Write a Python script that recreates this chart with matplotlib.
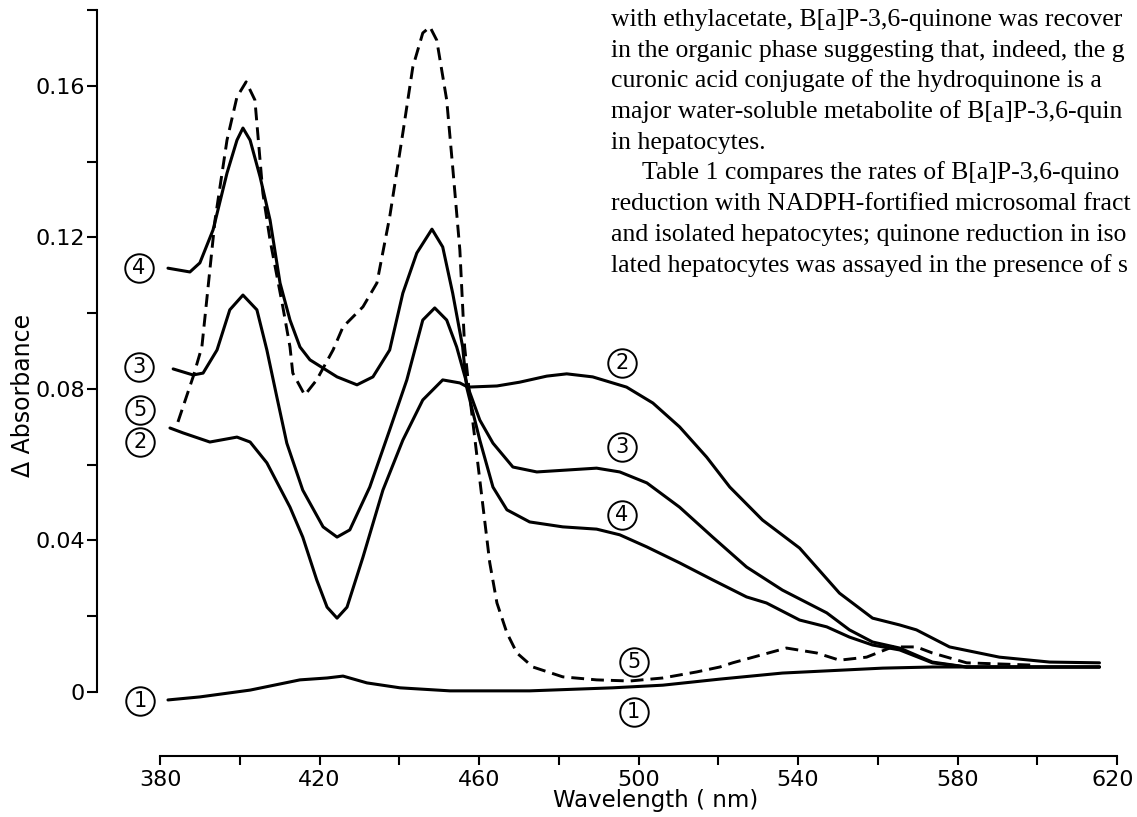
import matplotlib
matplotlib.use('Agg')
import matplotlib.pyplot as plt

# ---------------- data ----------------
wl_1 = [382.0, 390.0, 402.6, 415.1, 421.9, 425.9, 431.9, 440.2, 452.7, 472.7,
        493.5, 506.1, 520.4, 536.1, 561.2, 573.7, 615.6]
abs_1 = [-0.0021, -0.0013, 0.0005, 0.0032, 0.0037, 0.0042, 0.0024, 0.0011, 0.0003, 0.0003,
         0.0011, 0.0018, 0.0034, 0.0050, 0.0063, 0.0066, 0.0066]

wl_2 = [382.5, 385.8, 392.5, 399.3, 402.6, 406.8, 412.6, 415.8, 419.3, 421.9,
        424.4, 426.9, 430.9, 435.9, 440.9, 445.9, 450.9, 455.2, 457.2, 464.5,
        470.2, 477.0, 482.0, 488.5, 497.0, 503.6, 510.3, 517.1, 522.9, 531.1,
        540.4, 550.4, 558.7, 565.5, 569.7, 578.0, 590.5, 603.1, 615.6]
abs_2 = [0.0697, 0.0684, 0.0660, 0.0673, 0.0660, 0.0605, 0.0488, 0.0409, 0.0296, 0.0224,
         0.0195, 0.0224, 0.0356, 0.0533, 0.0665, 0.0771, 0.0824, 0.0816, 0.0805, 0.0808,
         0.0818, 0.0834, 0.0840, 0.0832, 0.0805, 0.0763, 0.0700, 0.0620, 0.0541, 0.0454,
         0.0380, 0.0261, 0.0195, 0.0177, 0.0164, 0.0119, 0.0092, 0.0079, 0.0077]

wl_3 = [383.3, 388.3, 390.8, 394.3, 397.5, 400.8, 404.3, 406.8, 409.3, 411.8,
        415.8, 420.9, 424.4, 427.6, 432.6, 437.6, 441.9, 445.9, 448.9, 451.9,
        454.4, 457.2, 460.2, 463.5, 468.5, 474.5, 482.0, 489.5, 495.3, 502.1,
        510.3, 518.6, 527.1, 536.1, 547.2, 552.9, 558.7, 565.5, 573.7, 582.3, 615.6]
abs_3 = [0.0853, 0.0837, 0.0842, 0.0903, 0.1009, 0.1048, 0.1009, 0.0903, 0.0779, 0.0657,
         0.0533, 0.0436, 0.0409, 0.0428, 0.0541, 0.0692, 0.0824, 0.0982, 0.1014, 0.0982,
         0.0911, 0.0805, 0.0718, 0.0657, 0.0594, 0.0581, 0.0586, 0.0591, 0.0581, 0.0552,
         0.0488, 0.0409, 0.0330, 0.0269, 0.0209, 0.0164, 0.0132, 0.0116, 0.0079, 0.0066, 0.0066]

wl_4 = [382.0, 387.5, 390.0, 393.3, 396.8, 399.3, 400.8, 402.6, 405.1, 407.6,
        410.1, 412.6, 415.1, 417.6, 424.4, 429.4, 433.4, 437.6, 440.9, 444.4,
        448.2, 450.9, 453.4, 455.9, 456.9, 460.2, 463.5, 467.0, 472.7, 481.0,
        489.5, 495.3, 502.1, 510.3, 518.6, 527.1, 532.1, 540.4, 547.2, 552.9,
        558.7, 565.5, 573.7, 582.3, 615.6]
abs_4 = [0.1119, 0.1109, 0.1133, 0.1220, 0.1370, 0.1457, 0.1489, 0.1457, 0.1360, 0.1246,
         0.1080, 0.0982, 0.0911, 0.0877, 0.0832, 0.0811, 0.0832, 0.0903, 0.1053, 0.1159,
         0.1222, 0.1175, 0.1053, 0.0911, 0.0805, 0.0665, 0.0541, 0.0481, 0.0449, 0.0436,
         0.0430, 0.0415, 0.0383, 0.0341, 0.0296, 0.0251, 0.0235, 0.0190, 0.0172, 0.0145,
         0.0124, 0.0111, 0.0077, 0.0066, 0.0066]

wl_5 = [384.5, 388.3, 390.5, 393.8, 396.8, 399.3, 401.6, 403.8, 405.8, 407.6,
        410.8, 412.6, 413.3, 416.3, 419.3, 423.4, 425.9, 430.9, 434.4, 437.6,
        440.9, 443.4, 445.9, 447.7, 449.4, 451.9, 453.4, 455.2, 456.4, 457.7,
        460.2, 462.7, 464.5, 467.0, 469.5, 473.5, 481.0, 489.5, 497.8, 506.1,
        514.6, 520.4, 523.6, 537.1, 544.7, 550.4, 557.2, 563.7, 569.7, 573.7,
        582.3, 598.8]
abs_5 = [0.0713, 0.0832, 0.0911, 0.1246, 0.1457, 0.1571, 0.1611, 0.1563, 0.1317, 0.1193,
         0.1017, 0.0911, 0.0842, 0.0784, 0.0824, 0.0903, 0.0964, 0.1017, 0.1080, 0.1254,
         0.1476, 0.1650, 0.1740, 0.1756, 0.1721, 0.1563, 0.1386, 0.1167, 0.0911, 0.0779,
         0.0560, 0.0341, 0.0235, 0.0156, 0.0103, 0.0066, 0.0040, 0.0032, 0.0029, 0.0037,
         0.0053, 0.0066, 0.0077, 0.0116, 0.0103, 0.0084, 0.0092, 0.0119, 0.0119, 0.0103,
         0.0077, 0.0071]

x_major = [380, 420, 460, 500, 540, 580, 620]
x_minor = [400, 440, 480, 520, 560, 600]
y_major = [0, 0.04, 0.08, 0.12, 0.16]
y_major_labels = ['0', '0.04', '0.08', '0.12', '0.16']
y_minor = [0.02, 0.06, 0.10, 0.14, 0.18]

# curve labels: (number, wavelength, absorbance)
label_nums = ['4', '3', '5', '2', '1', '2', '3', '4', '5', '1']
label_wl = [374.7, 374.7, 375.0, 375.0, 375.0, 495.8, 495.8, 495.8, 498.8, 498.8]
label_abs = [0.1119, 0.0858, 0.0745, 0.0660, -0.0024, 0.0869, 0.0647, 0.0467, 0.0079, -0.0053]

text_lines = [
    "with ethylacetate, B[a]P-3,6-quinone was recover",
    "in the organic phase suggesting that, indeed, the g",
    "curonic acid conjugate of the hydroquinone is a",
    "major water-soluble metabolite of B[a]P-3,6-quin",
    "in hepatocytes.",
    "Table 1 compares the rates of B[a]P-3,6-quino",
    "reduction with NADPH-fortified microsomal fract",
    "and isolated hepatocytes; quinone reduction in iso",
    "lated hepatocytes was assayed in the presence of s",
]
text_indent = [0, 0, 0, 0, 0, 1, 0, 0, 0]

# ---------------- figure ----------------
W, H = 1137, 817
fig = plt.figure(figsize=(W / 100, H / 100), dpi=100)
ax = fig.add_axes([97 / W, 61 / H, 1020 / W, 745.75 / H])
ax.set_xlim(364.2, 620)
ax.set_ylim(-0.0169, 0.18)

tick_font = 'DejaVu Sans'
tick_size = 16

lw = 2.2
ax.plot(wl_1, abs_1, color='black', lw=lw, solid_joinstyle='round', solid_capstyle='round')
ax.plot(wl_2, abs_2, color='black', lw=lw, solid_joinstyle='round', solid_capstyle='round')
ax.plot(wl_3, abs_3, color='black', lw=lw, solid_joinstyle='round', solid_capstyle='round')
ax.plot(wl_4, abs_4, color='black', lw=lw, solid_joinstyle='round', solid_capstyle='round')
ax.plot(wl_5, abs_5, color='black', lw=2.1, linestyle=(0, (4.4, 2.4)), dash_capstyle='butt')

for n, xw, ya in zip(label_nums, label_wl, label_abs):
    ax.plot([xw], [ya], marker='o', markersize=20.5, mfc='none', mec='black', mew=1.4,
            clip_on=False)
    ax.text(xw, ya, n, ha='center', va='center', fontsize=15, family=tick_font,
            clip_on=False)

for s in ['top', 'right']:
    ax.spines[s].set_visible(False)
ax.spines['left'].set_bounds(0, 0.18)
ax.spines['bottom'].set_bounds(380, 620)
ax.spines['left'].set_linewidth(1.5)
ax.spines['bottom'].set_linewidth(1.5)

ax.set_xticks(x_major)
ax.set_xticklabels([str(v) if v != 620 else '' for v in x_major])
ax.set_xticks(x_minor, minor=True)
ax.set_yticks(y_major)
ax.set_yticklabels(y_major_labels)
ax.set_yticks(y_minor, minor=True)
ax.tick_params(axis='both', which='both', direction='out', width=1.5, colors='black')
ax.tick_params(axis='x', which='both', length=6.5, pad=3.5, labelsize=tick_size)
ax.tick_params(axis='y', which='both', length=7.2, pad=1.5, labelsize=tick_size)
for lab in ax.get_xticklabels() + ax.get_yticklabels():
    lab.set_family(tick_font)

# last x tick label kept inside the canvas edge
fig.text(1113 / W, 1 - 770 / H, str(x_major[-1]), ha='center', va='top',
         fontsize=tick_size, family=tick_font)

fig.text(23 / W, 1 - 395 / H, 'Δ Absorbance', rotation=90, ha='center', va='center',
         fontsize=17, family='DejaVu Sans')
fig.text(656 / W, 1 - 801 / H, 'Wavelength ( nm)', ha='center', va='center',
         fontsize=16.5, family='DejaVu Sans')

base0 = 26.0
step = 30.7
for i, (line, ind) in enumerate(zip(text_lines, text_indent)):
    x = 642 if ind else 611
    fig.text(x / W, 1 - (base0 + i * step) / H, line, ha='left', va='baseline',
             fontsize=18.5, family=['Liberation Serif', 'DejaVu Serif'])

fig.savefig('out.png', dpi=100)
